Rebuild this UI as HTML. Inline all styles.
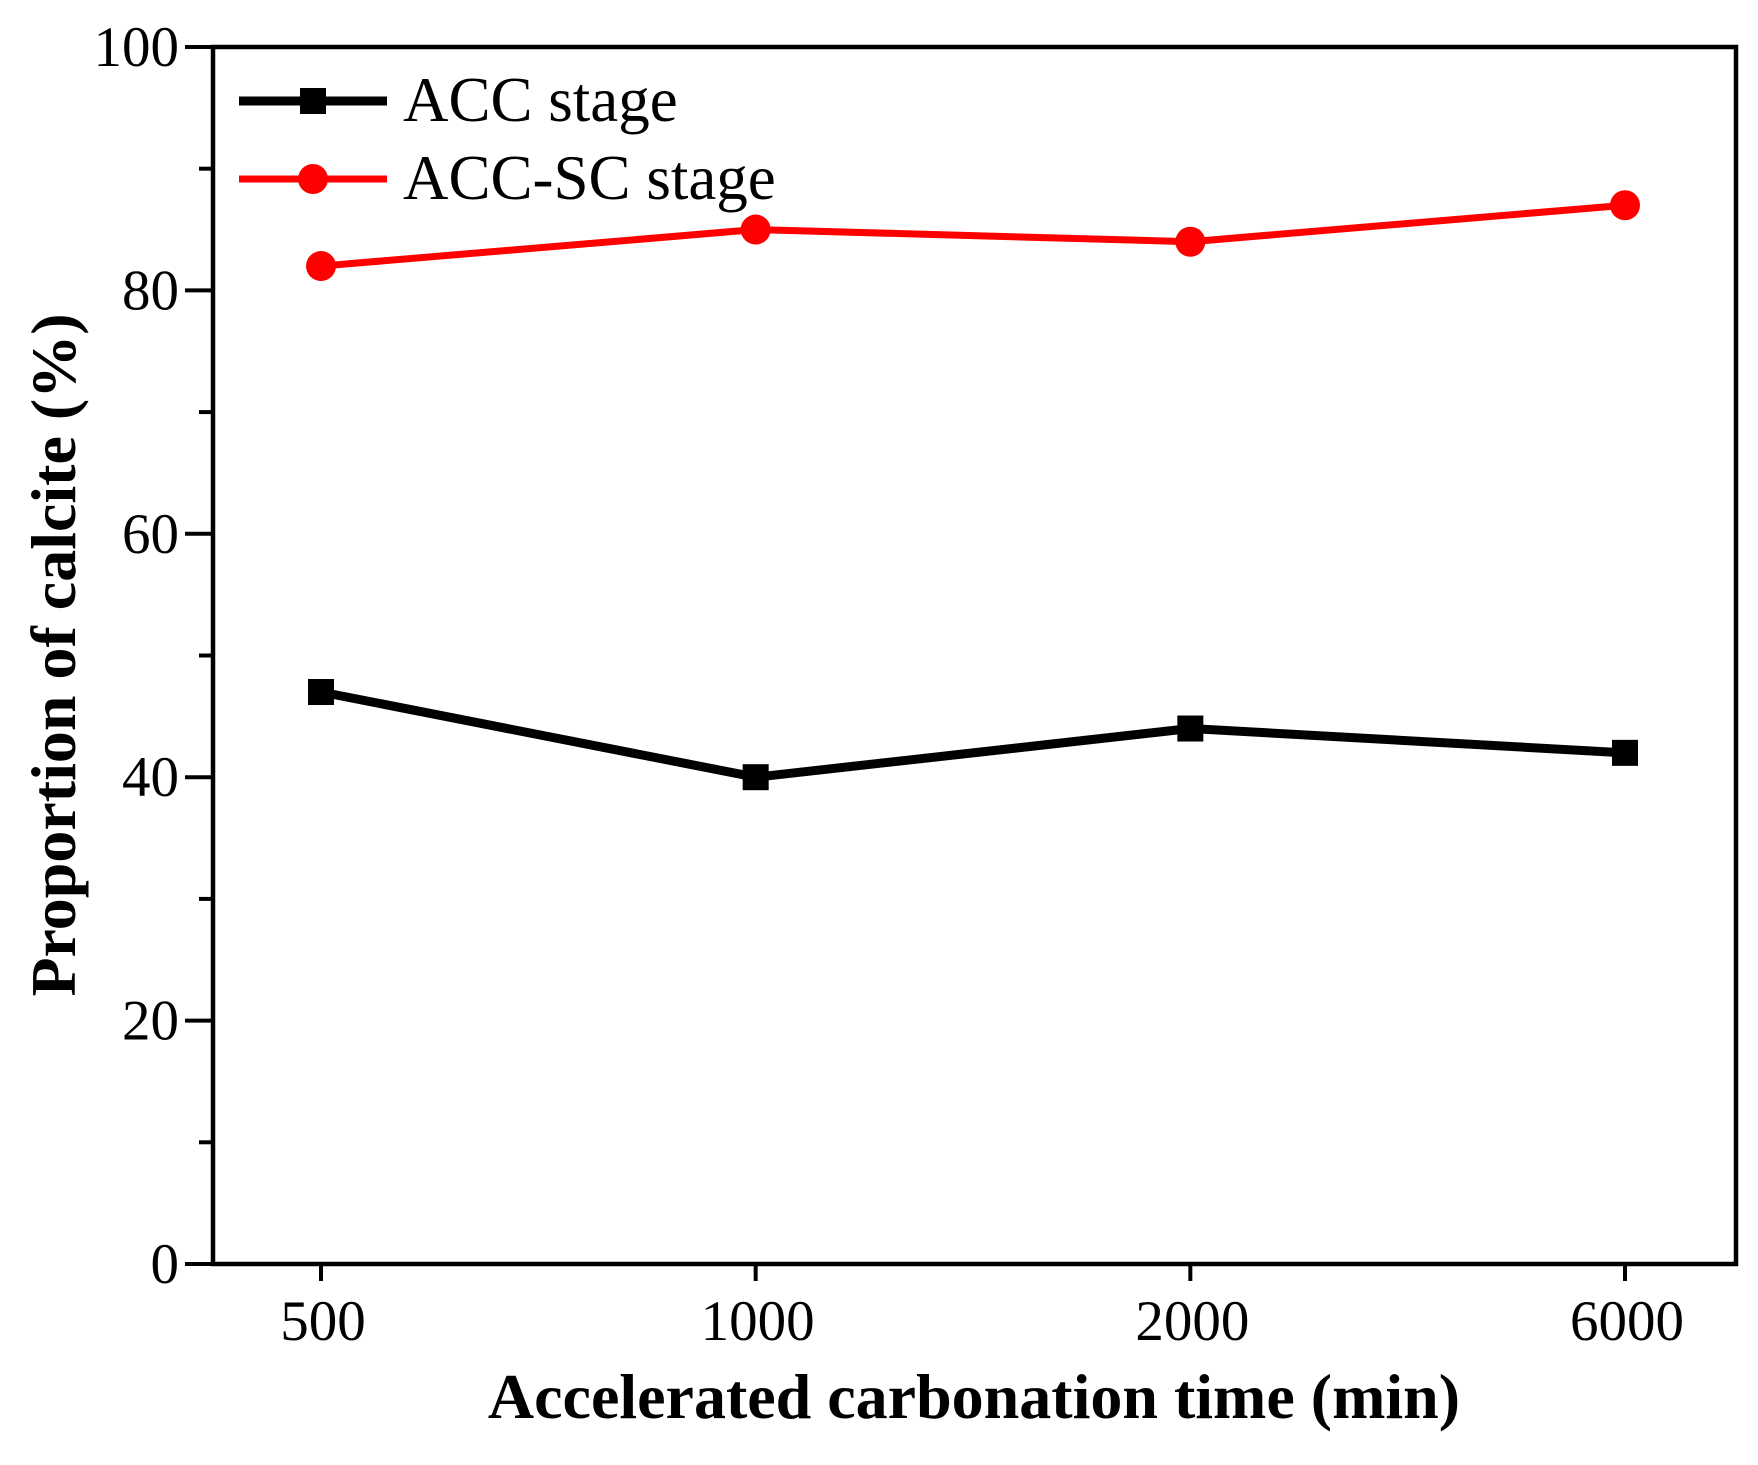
<!DOCTYPE html>
<html><head><meta charset="utf-8"><style>
html,body{margin:0;padding:0;background:#fff;}
svg text{font-family:"Liberation Serif",serif;}
</style></head><body>
<svg id="chart" width="1758" height="1460" xmlns="http://www.w3.org/2000/svg">
</svg>
<script>
const categories = ["500","1000","2000","6000"];
const accValues = [47,40,44,42];
const accScValues = [82,85,84,87];
const yTicks = [0,20,40,60,80,100];
const yMinor = [10,30,50,70,90];

const L=213,R=1736,T=47,B=1264;
const NS="http://www.w3.org/2000/svg";
const svg=document.getElementById('chart');
const xPos=[321,755,1190,1625];
function xs(i){return xPos[0]+(xPos[3]-xPos[0])*i/(categories.length-1);}
function ys(v){return B-(B-T)*v/100;}
function mk(tag,attrs,parent){const e=document.createElementNS(NS,tag);for(const k in attrs)e.setAttribute(k,attrs[k]);(parent||svg).appendChild(e);return e;}

const frame=mk('rect',{x:L,y:T,width:R-L,height:B-T,fill:'none',stroke:'#000','stroke-width':4.5});



yTicks.forEach(v=>{
  const t=mk('line',{x1:L-28,x2:L,y1:ys(v),y2:ys(v),stroke:'#000','stroke-width':4});
  
  
  const tx=mk('text',{x:L-34,y:ys(v)+19,'text-anchor':'end','font-size':57});
  tx.textContent=v;
  
  
});
yMinor.forEach(v=>{
  const t=mk('line',{x1:L-14,x2:L,y1:ys(v),y2:ys(v),stroke:'#000','stroke-width':4});
  
  
});
categories.forEach((c,i)=>{
  const t=mk('line',{x1:xs(i),x2:xs(i),y1:B,y2:B+17,stroke:'#000','stroke-width':4});
  
  
  const tx=mk('text',{x:xs(i)+2,y:B+76,'text-anchor':'middle','font-size':57});
  tx.textContent=c;
  
  
});

function series(vals,color,shape,name,w){
  const pl=mk('polyline',{points:vals.map((v,i)=>xs(i)+','+ys(v)).join(' '),fill:'none',stroke:color,'stroke-width':w,'stroke-linejoin':'round'});
  
  
  vals.forEach((v,i)=>{
    let m;
    if(shape==='sq') m=mk('rect',{x:xs(i)-13,y:ys(v)-13,width:26,height:26,fill:color});
    else m=mk('circle',{cx:xs(i),cy:ys(v),r:15,fill:color});
    
    
  });
}
series(accValues,'#000','sq','acc-stage',9);
series(accScValues,'#ff0000','ci','acc-sc-stage',7);

const lg1=mk('line',{x1:239,x2:387,y1:101,y2:101,stroke:'#000','stroke-width':9});


const lm1=mk('rect',{x:300,y:88,width:26,height:26,fill:'#000'});


const lt1=mk('text',{x:403,y:121,'font-size':63});
lt1.textContent='ACC stage';


const lg2=mk('line',{x1:239,x2:387,y1:179,y2:179,stroke:'#ff0000','stroke-width':7});


const lm2=mk('circle',{cx:313,cy:179,r:15,fill:'#ff0000'});


const lt2=mk('text',{x:403,y:199,'font-size':63});
lt2.textContent='ACC-SC stage';



const xt=mk('text',{x:974,y:1418,'text-anchor':'middle','font-size':64,'font-weight':'bold'});
xt.textContent='Accelerated carbonation time (min)';


const yt=mk('text',{x:0,y:0,'text-anchor':'middle','font-size':64,'font-weight':'bold',transform:'translate(75,655) rotate(-90)'});
yt.textContent='Proportion of calcite (%)';


</script>
</body></html>
